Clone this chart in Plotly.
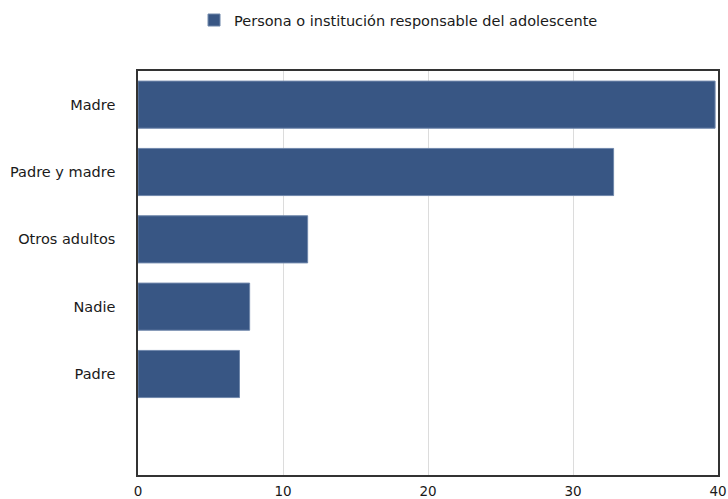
import plotly.graph_objects as go

# Who the adolescent lives with / is responsible for them
categorias = ["Madre", "Padre y madre", "Otros adultos", "Nadie", "Padre"]
valores = [39.8, 32.8, 11.7, 7.7, 7.0]
serie = "Persona o institución responsable del adolescente"
ticks_x = [0, 10, 20, 30, 40]

fig = go.Figure()
fig.add_trace(go.Bar(
    y=categorias,
    x=valores,
    orientation="h",
    name=serie,
    width=0.7,
    marker=dict(color="#385684", line=dict(color="#6f87ab", width=1)),
    showlegend=True,
))

font_family = "DejaVu Sans, Verdana, sans-serif"
fsize = 14.5

fig.update_layout(
    width=728,
    height=499,
    margin=dict(l=138, r=10, t=71, b=24, autoexpand=False),
    paper_bgcolor="white",
    plot_bgcolor="white",
    font=dict(family=font_family, size=fsize, color="#1a1a1a"),
    showlegend=True,
    legend=dict(
        orientation="h",
        x=0.0966, xanchor="left",
        y=1.126, yanchor="middle",
        font=dict(size=fsize, color="#1a1a1a"),
        itemwidth=30,
        bgcolor="rgba(0,0,0,0)",
    ),
    xaxis=dict(
        range=[0, 40],
        tickvals=ticks_x,
        automargin=False,
        showgrid=True,
        gridcolor="#dcdcdc",
        gridwidth=1,
        zeroline=False,
        showline=True,
        linecolor="#333",
        linewidth=1.5,
        mirror=True,
        ticks="",
        ticklabelstandoff=3,
        tickfont=dict(size=fsize - 1, color="#1a1a1a"),
    ),
    yaxis=dict(
        categoryorder="array",
        categoryarray=categorias,
        range=[5.5, -0.5],
        automargin=False,
        showgrid=False,
        zeroline=False,
        showline=True,
        linecolor="#333",
        linewidth=1.5,
        mirror=True,
        ticks="",
        ticklabelstandoff=18,
        tickfont=dict(size=fsize, color="#1a1a1a"),
    ),
)

fig.write_html("out.html")
